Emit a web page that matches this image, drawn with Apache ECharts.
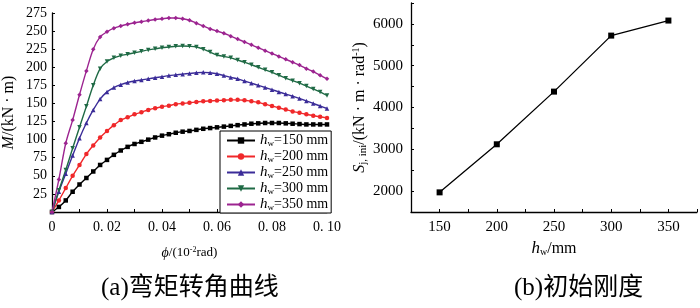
<!DOCTYPE html>
<html>
<head>
<meta charset="utf-8">
<script src="https://cdn.jsdelivr.net/npm/echarts@6/dist/echarts.min.js"></script>
<style>
  html, body { margin: 0; padding: 0; background: #fff; }
  #chart { width: 700px; height: 308px; }
</style>
</head>
<body>
<div id="chart"></div>
<script>
// (a) moment-rotation curves, phi in 10^-2 rad
const phi = [0, 0.0025, 0.005, 0.0075, 0.01, 0.0125, 0.015, 0.0175, 0.02, 0.0225,
  0.025, 0.0275, 0.03, 0.0325, 0.035, 0.0375, 0.04, 0.0425, 0.045, 0.0475,
  0.05, 0.0525, 0.055, 0.0575, 0.06, 0.0625, 0.065, 0.0675, 0.07, 0.0725,
  0.075, 0.0775, 0.08, 0.0825, 0.085, 0.0875, 0.09, 0.0925, 0.095, 0.0975, 0.1];
const m150 = [0, 7, 16, 28, 38, 47, 56, 65, 72, 79, 85, 90, 94, 97, 100, 103, 105.5, 107.5, 109.5, 111,
  112, 113.5, 115, 116, 117, 118, 119, 120, 121, 122, 122.5, 123, 123, 123, 122.5, 122, 121.5, 121, 121, 121, 121];
const m200 = [0, 16, 33, 50, 65, 80, 92, 103, 112, 120, 127, 131, 135, 138, 141, 143.5, 145.5, 147, 149, 150,
  151, 152, 153, 153.5, 154, 154.5, 155, 155, 154.5, 153, 151.5, 149, 146.5, 144, 141.5, 139, 137, 135, 133, 131.5, 130];
const m250 = [0, 28, 53, 78, 102, 123, 141, 156, 166, 172, 176, 179, 181, 182.5, 184, 185.5, 187, 188.5, 189.5, 190.5,
  191.5, 192.5, 193, 192.5, 191, 188.5, 186, 184, 181, 178, 175, 172, 169, 166, 163, 160, 157, 153.5, 150, 146.5, 143];
const m300 = [0, 30, 58, 88, 117, 146, 175, 198, 208, 213, 216, 218, 220, 222, 224, 225.5, 227, 228, 229, 229.5,
  229, 228, 225, 221, 217, 215, 213, 210, 207, 203.5, 200, 196.5, 193, 189, 185, 181.5, 178, 174, 170, 166, 161];
const m350 = [0, 45, 95, 127, 162, 195, 225, 242, 249, 254, 257, 259.5, 261.5, 263, 264.5, 266, 267, 268, 268, 267,
  265, 261, 257, 253, 250, 247, 243, 239, 235, 231, 227, 223, 219, 215, 211, 207, 203, 198, 194, 189, 184];
const curveNames = ["150", "200", "250", "300", "350"];

// (b) initial stiffness
const hw = [150, 200, 250, 300, 350];
const sjIni = [1970, 3120, 4380, 5720, 6080];

const serif = '"Liberation Serif", "Times New Roman", serif';
const cjk = '"Liberation Serif", "Noto Sans CJK SC", serif';

function pairs(xs, ys) {
  return xs.map(function (x, i) { return [x, ys[i]]; });
}

const curveData = [m150, m200, m250, m300, m350];
const curveColors = ["#000000", "#f0282a", "#3b2c98", "#1f6a45", "#9c2490"];
const curveSymbols = ["rect", "circle", "triangle", "triangle", "diamond"];
const curveRotate = [0, 0, 0, 180, 0];

let series = [];
for (let i = 0; i < curveData.length; i++) {
  series.push({
    name: curveNames[i],
    type: "line",
    xAxisIndex: 0,
    yAxisIndex: 0,
    smooth: 0.3,
    data: pairs(phi, curveData[i]),
    symbol: curveSymbols[i],
    symbolRotate: curveRotate[i],
    symbolSize: 4.5,
    showAllSymbol: true,
    lineStyle: { color: curveColors[i], width: 1.4 },
    itemStyle: { color: curveColors[i] }
  });
}
series.push({
  name: "Sj",
  type: "line",
  xAxisIndex: 1,
  yAxisIndex: 1,
  data: pairs(hw, sjIni),
  symbol: "rect",
  symbolSize: 6,
  lineStyle: { color: "#000", width: 1.3 },
  itemStyle: { color: "#000" }
});

const axisLine = { lineStyle: { color: "#000", width: 1.3 } };
const axisTick = { inside: true, length: 3, lineStyle: { color: "#000", width: 1 } };

let myChart = echarts.init(document.getElementById("chart"), null, { renderer: "canvas" });
let option = {
  animation: false,
  backgroundColor: "#fff",
  grid: [
    { left: 49, top: 13, width: 278, height: 199 },
    { left: 411, top: 3, width: 287, height: 209 }
  ],
  legend: {
    data: curveNames,
    orient: "vertical",
    left: 220,
    top: 131,
    width: 112,
    padding: [2, 3, 1, 6],
    itemGap: 1,
    itemWidth: 28,
    itemHeight: 8,
    borderColor: "#000",
    borderWidth: 1,
    backgroundColor: "#fff",
    formatter: function (name) {
      return "{i|h}{sub|w}{t|=" + name + " mm}";
    },
    textStyle: {
      fontFamily: serif,
      fontSize: 14,
      color: "#000",
      rich: {
        i: { fontFamily: serif, fontSize: 15, fontStyle: "italic", color: "#000" },
        sub: { fontFamily: serif, fontSize: 9, color: "#000", verticalAlign: "bottom", padding: [6, 0, 0, 0] },
        t: { fontFamily: serif, fontSize: 14, color: "#000" }
      }
    }
  },
  xAxis: [
    {
      gridIndex: 0,
      type: "value",
      min: 0,
      max: 0.1,
      interval: 0.01,
      name: "{i|ϕ}/(10{sup|-2}rad)",
      nameLocation: "middle",
      nameGap: 34,
      nameTextStyle: {
        fontFamily: serif,
        fontSize: 13,
        color: "#000",
        rich: {
          i: { fontFamily: serif, fontSize: 14, fontStyle: "italic", color: "#000" },
          sup: { fontFamily: serif, fontSize: 8, color: "#000", verticalAlign: "top", padding: [0, 0, 6, 0] }
        }
      },
      axisLine: axisLine,
      axisTick: axisTick,
      splitLine: { show: false },
      axisLabel: {
        fontFamily: serif,
        fontSize: 14,
        color: "#000",
        margin: 8,
        formatter: function (v) {
          let k = Math.round(v * 100);
          if (k === 0) return "0";
          if (k % 2 !== 0) return "";
          return "0. " + String(k).padStart(2, "0");
        }
      }
    },
    {
      gridIndex: 1,
      type: "value",
      min: 125,
      max: 375,
      interval: 25,
      name: "{i|h}{sub|w}/mm",
      nameLocation: "middle",
      nameGap: 22,
      nameTextStyle: {
        fontFamily: serif,
        fontSize: 16,
        color: "#000",
        rich: {
          i: { fontFamily: serif, fontSize: 17, fontStyle: "italic", color: "#000" },
          sub: { fontFamily: serif, fontSize: 10, color: "#000", verticalAlign: "bottom", padding: [7, 0, 0, 0] }
        }
      },
      axisLine: axisLine,
      axisTick: axisTick,
      splitLine: { show: false },
      axisLabel: {
        fontFamily: serif,
        fontSize: 15,
        color: "#000",
        margin: 8,
        formatter: function (v) {
          return v % 50 === 0 ? String(v) : "";
        }
      }
    }
  ],
  yAxis: [
    {
      gridIndex: 0,
      type: "value",
      min: 0,
      max: 275,
      interval: 25,
      name: "{i|M}/(kN · m)",
      nameLocation: "middle",
      nameRotate: 90,
      nameGap: 35,
      nameTextStyle: {
        fontFamily: serif,
        fontSize: 16,
        color: "#000",
        rich: {
          i: { fontFamily: serif, fontSize: 16, fontStyle: "italic", color: "#000" }
        }
      },
      axisLine: axisLine,
      axisTick: axisTick,
      splitLine: { show: false },
      axisLabel: {
        fontFamily: serif,
        fontSize: 14,
        color: "#000",
        margin: 5,
        formatter: function (v) {
          return v === 0 ? "" : String(v);
        }
      }
    },
    {
      gridIndex: 1,
      type: "value",
      min: 1500,
      max: 6500,
      interval: 500,
      name: "{i|S}{sub|j, ini}/(kN · m · rad{sup|-1})",
      nameLocation: "middle",
      nameRotate: 90,
      nameGap: 38,
      nameTextStyle: {
        fontFamily: serif,
        fontSize: 16,
        color: "#000",
        rich: {
          i: { fontFamily: serif, fontSize: 16, fontStyle: "italic", color: "#000" },
          sub: { fontFamily: serif, fontSize: 11, color: "#000", verticalAlign: "bottom", padding: [7, 0, 0, 0] },
          sup: { fontFamily: serif, fontSize: 10, color: "#000", verticalAlign: "top", padding: [0, 0, 7, 0] }
        }
      },
      axisLine: axisLine,
      axisTick: axisTick,
      splitLine: { show: false },
      axisLabel: {
        fontFamily: serif,
        fontSize: 15,
        color: "#000",
        margin: 8,
        formatter: function (v) {
          return v % 1000 === 0 ? String(v) : "";
        }
      }
    }
  ],
  graphic: [
    {
      type: "text",
      left: 101,
      top: 276,
      style: { text: "(a)弯矩转角曲线", font: "25px " + cjk, fill: "#000" }
    },
    {
      type: "text",
      left: 514,
      top: 276,
      style: { text: "(b)初始刚度", font: "25px " + cjk, fill: "#000" }
    }
  ],
  series: series
};
myChart.setOption(option);
</script>
</body>
</html>
